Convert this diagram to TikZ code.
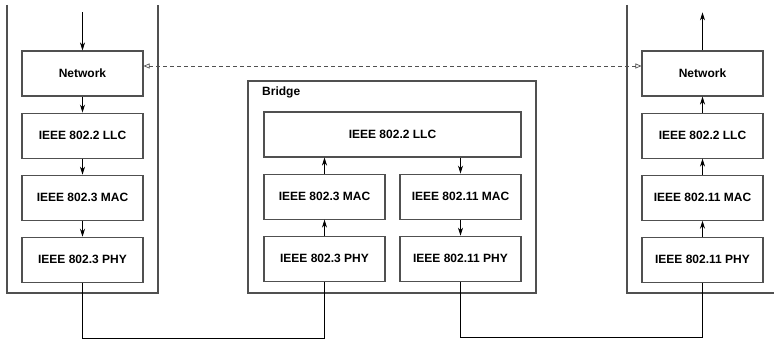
\documentclass[tikz,border=0pt]{standalone}
\usepackage{fontspec}
\setmainfont{Liberation Sans}
\usetikzlibrary{arrows.meta,positioning,calc}
\definecolor{FrameGrey}{HTML}{505050}

\begin{document}
\begin{tikzpicture}[
            x=1pt, y=1pt,
            font=\fontsize{12}{14}\selectfont\bfseries,
            node distance=16pt,
            layer/.style={
                    draw=FrameGrey,
                    line width=1.1pt,
                    minimum width=121pt,
                    minimum height=45pt,
                    inner sep=0pt
                },
            wide/.style={layer, minimum width=257pt},
            frame/.style={draw=FrameGrey, line width=1.1pt},
            arrow/.style={-{Stealth[length=8pt,width=5pt]}, line width=0.7pt},
            wire/.style={line width=0.9pt},
            peer/.style={{Triangle[open,length=6pt,width=5pt]}-{Triangle[open,length=6pt,width=5pt]},
                    dash pattern=on 4pt off 3pt, draw=FrameGrey, line width=0.7pt},
        ]
        \useasboundingbox (0,0) rectangle (774,339);

        % left station
        \draw[frame] (7,334) |- (158,46) -- (158,334);
        \node[layer] (lnet) at (82.5,265.5) {Network};
        \node[layer, below=of lnet] (lllc) {IEEE 802.2 LLC};
        \node[layer, below=of lllc] (lmac) {IEEE 802.3 MAC};
        \node[layer, below=of lmac] (lphy) {IEEE 802.3 PHY};

        % bridge
        \draw[frame] (248,46) rectangle (536,258);
        \node[anchor=base west, inner sep=0pt] (blabel) at (262,243) {Bridge};
        \node[wide] (bllc) at (392.5,204.5) {IEEE 802.2 LLC};
        \node[layer, below right=16pt and 0pt of bllc.south west] (b3mac) {IEEE 802.3 MAC};
        \node[layer, below left=16pt and 0pt of bllc.south east] (b11mac) {IEEE 802.11 MAC};
        \node[layer, below=of b3mac] (b3phy) {IEEE 802.3 PHY};
        \node[layer, below=of b11mac] (b11phy) {IEEE 802.11 PHY};

        % right station
        \draw[frame] (627,334) |- (774,46);
        \node[layer] (rnet) at (702.5,265.5) {Network};
        \node[layer, below=of rnet] (rllc) {IEEE 802.2 LLC};
        \node[layer, below=of rllc] (rmac) {IEEE 802.11 MAC};
        \node[layer, below=of rmac] (rphy) {IEEE 802.11 PHY};

        % down the left stack
        \draw[arrow] ($(lnet.north)+(0,38)$) -- (lnet.north);
        \draw[arrow] (lnet) -- (lllc);
        \draw[arrow] (lllc) -- (lmac);
        \draw[arrow] (lmac) -- (lphy);

        % through the bridge
        \draw[arrow] (b3phy) -- (b3mac);
        \draw[arrow] (b3mac.north) -- (b3mac.north |- bllc.south);
        \draw[arrow] (b11mac.north |- bllc.south) -- (b11mac.north);
        \draw[arrow] (b11mac) -- (b11phy);

        % up the right stack
        \draw[arrow] (rphy) -- (rmac);
        \draw[arrow] (rmac) -- (rllc);
        \draw[arrow] (rllc) -- (rnet);
        \draw[arrow] (rnet.north) -- ++(0,38);

        % cables
        \draw[wire] (lphy.south) -- ++(0,-55.5) -| (b3phy.south);
        \draw[wire] (b11phy.south) -- ++(0,-55.5) -| (rphy.south);

        % peer link
        \draw[peer] ($(lnet.east)+(0,7.5)$) -- ($(rnet.west)+(0,7.5)$);
    \end{tikzpicture}
\end{document}
